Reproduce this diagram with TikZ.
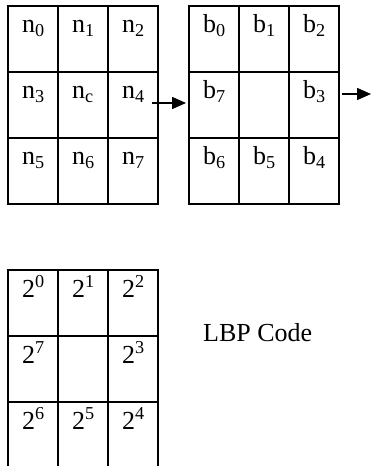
\documentclass[tikz,border=0pt]{standalone}
\usepackage{fontspec}
\setmainfont{Liberation Serif}
\usetikzlibrary{calc,arrows.meta}

\tikzset{
    cell/.style={line width=2pt},
    lbl/.style={anchor=base west,inner sep=0pt,font=\fontsize{26}{30}\selectfont},
    arr/.style={line width=1.5pt,-{Triangle[length=14pt,width=12pt]}}
}

\begin{document}
\begin{tikzpicture}[x=1pt,y=-1pt]
    \pgfmathsetmacro{\cw}{50}
    \pgfmathsetmacro{\ch}{66}
    \pgfmathsetmacro{\dx}{14}
    \pgfmathsetmacro{\dy}{27}
    \useasboundingbox (0,0) rectangle (371,466);
    % Define grid corners
    \coordinate (N) at (8,5.5);
    \coordinate (B) at (189,5.5);
    \coordinate (P) at (8,270);
    % Draw the three 3x3 grids
    \foreach \g in {N,B,P} {
        \foreach \r in {0,1,2} {
            \foreach \c in {0,1,2} {
                \draw[cell] ($(\g)+(\c*\cw,\r*\ch)$) rectangle ++(\cw,\ch);
            }
        }
    }
    % Cell labels
    \foreach \t [count=\i from 0] in {n\textsubscript{0},n\textsubscript{1},n\textsubscript{2},
        n\textsubscript{3},n\textsubscript{c},n\textsubscript{4},
        n\textsubscript{5},n\textsubscript{6},n\textsubscript{7}} {
        \pgfmathtruncatemacro{\c}{mod(\i,3)}
        \pgfmathtruncatemacro{\r}{div(\i,3)}
        \node[lbl] (N\i) at ($(N)+(\c*\cw+\dx,\r*\ch+\dy)$) {\t};
    }
    \foreach \t [count=\i from 0] in {b\textsubscript{0},b\textsubscript{1},b\textsubscript{2},
        b\textsubscript{7},{},b\textsubscript{3},
        b\textsubscript{6},b\textsubscript{5},b\textsubscript{4}} {
        \pgfmathtruncatemacro{\c}{mod(\i,3)}
        \pgfmathtruncatemacro{\r}{div(\i,3)}
        \node[lbl] (B\i) at ($(B)+(\c*\cw+\dx,\r*\ch+\dy)$) {\t};
    }
    \foreach \t [count=\i from 0] in {2\textsuperscript{0},2\textsuperscript{1},2\textsuperscript{2},
        2\textsuperscript{7},{},2\textsuperscript{3},
        2\textsuperscript{6},2\textsuperscript{5},2\textsuperscript{4}} {
        \pgfmathtruncatemacro{\c}{mod(\i,3)}
        \pgfmathtruncatemacro{\r}{div(\i,3)}
        \node[lbl] (P\i) at ($(P)+(\c*\cw+\dx,\r*\ch+\dy)$) {\t};
    }
    \node[lbl] (code) at (203,341) {LBP Code};
    % Arrows
    \coordinate (a1) at (152,103);
    \coordinate (a2) at (186,103);
    \coordinate (a3) at (342,94);
    \coordinate (a4) at (371,94);
    \draw[arr] (a1) -- (a2);
    \draw[arr] (a3) -- (a4);
\end{tikzpicture}
\end{document}
